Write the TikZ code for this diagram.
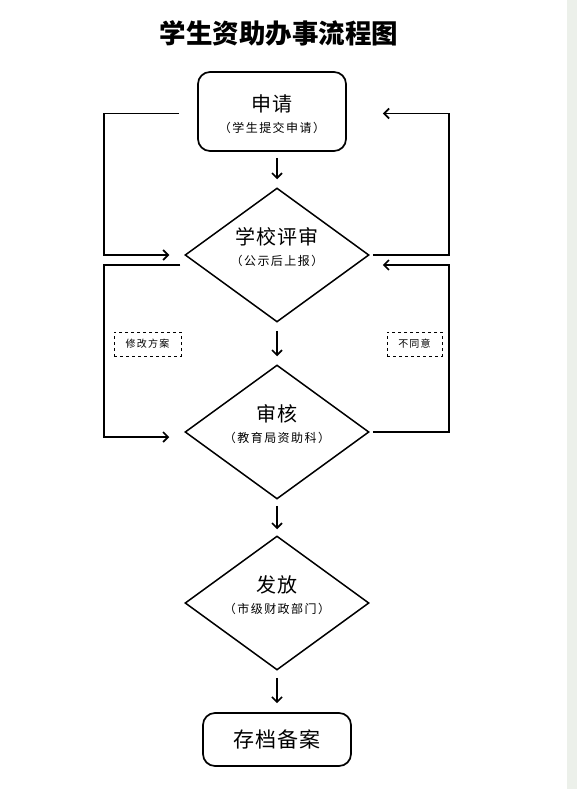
\documentclass[tikz,border=0pt]{standalone}
\usepackage{fontspec}
\setmainfont{Noto Sans CJK SC}
\newfontfamily\spaced{Noto Sans CJK SC}[LetterSpace=12]
\usetikzlibrary{shapes.geometric, arrows.meta}
\usetikzlibrary{positioning,calc}
\definecolor{stripgrey}{RGB}{236,240,234}

\begin{document}
\begin{tikzpicture}[x=1pt,y=1pt,node distance=177pt]
	%defines
	\tikzstyle{startstop} = [rectangle, rounded corners=12pt, minimum width=148pt, minimum height=79pt, text centered, align=center, draw=black, line width=1.7pt]
	\tikzstyle{decision} = [diamond, aspect=1.4, minimum width=184pt, minimum height=134pt, inner sep=0pt, text centered, align=center, text height=24pt, text depth=3pt, draw=black, line width=1.5pt]
	\tikzstyle{note} = [rectangle, dashed, minimum height=24pt, inner sep=0pt, text centered, draw=black, line width=0.6pt, font=\spaced\fontsize{10}{12}\selectfont]
	\tikzstyle{arrow} = [line width=1.7pt, -{Straight Barb[length=5pt,width=10pt]}]
	\newcommand{\bigline}[1]{{\fontsize{20}{24}\selectfont\addfontfeature{LetterSpace=5}#1}}
	\newcommand{\smallline}[1]{{\spaced\fontsize{12}{14}\selectfont #1}}
	\useasboundingbox (0,0) rectangle (577,-789);
	\fill [stripgrey] (567,0) rectangle (577,-789);
	%chart
	\node (title) at (279,-33) {\bfseries\fontsize{26.5}{30}\selectfont 学生资助办事流程图};
	\node (school) [decision] at (277,-255) {\bigline{学校评审}\\[9.5pt]\smallline{（公示后上报）}};
	\node (apply) [startstop, above of=school, node distance=143.5pt, xshift=-5pt, text height=44pt, text depth=3pt] {\bigline{申请}\\[8.5pt]\smallline{（学生提交申请）}};
	\node (audit) [decision, below of=school] {\bigline{审核}\\[9pt]\smallline{（教育局资助科）}};
	\node (grant) [decision, below of=audit, node distance=171pt] {\bigline{发放}\\[9pt]\smallline{（市级财政部门）}};
	\node (archive) [startstop, below of=grant, node distance=136.5pt, minimum height=53pt] {\fontsize{21}{24}\selectfont\addfontfeature{LetterSpace=5}存档备案};
	\node (revise) [note, minimum width=67pt] at (147.5,-344) {修改方案};
	\node (reject) [note, minimum width=55pt] at (414.5,-344) {不同意};
	\draw [arrow, shorten <=6pt, shorten >=8pt] (apply.south -| school.north) -- (school.north);
	\draw [arrow, shorten <=8pt, shorten >=8pt] (school) -- (audit);
	\draw [arrow, shorten <=6pt, shorten >=6pt] (audit) -- (grant);
	\draw [arrow, shorten <=7pt, shorten >=9pt] (grant) -- (archive);
	\draw [arrow] ([shift={(-18,-2)}]apply.west) -- ++(-75,0) |- ([xshift=-15]school.west);
	\draw [arrow] ([xshift=3]school.east) -- ++(76,0) |- ([shift={(36,-2)}]apply.east);
	\draw [arrow] ([shift={(-4,-10)}]school.west) -- ++(-76,0) |- ([shift={(-15,-5)}]audit.west);
	\draw [arrow] ([xshift=3]audit.east) -- ++(76,0) |- ([shift={(13,-10)}]school.east);
\end{tikzpicture}
\end{document}
